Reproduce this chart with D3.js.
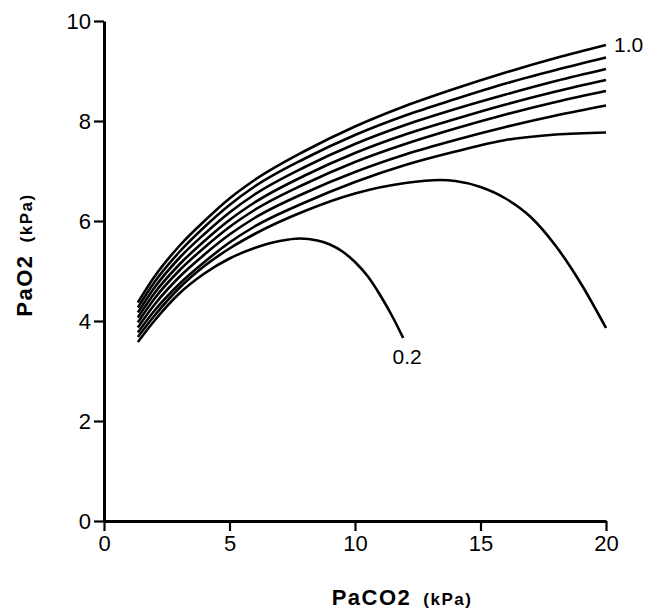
<!DOCTYPE html>
<html>
<head>
<meta charset="utf-8">
<script src="https://cdn.jsdelivr.net/npm/d3@7"></script>
<style>
  body { margin: 0; background: #fff; }
  text { font-family: "Liberation Sans", Arial, sans-serif; fill: #000; }
</style>
</head>
<body>
<div id="chart"></div>
<script>
// PaCO2 values (kPa) where the curves were read
const paco2 = [1.35, 2, 3, 4, 5, 6, 8, 10, 12, 14, 16, 18, 20];

// PaO2 (kPa) for FiO2 0.4 .. 1.0, read at the paco2 points
const pao2_10 = [4.37, 4.88, 5.5, 6.0, 6.45, 6.82, 7.4, 7.89, 8.3, 8.65, 8.97, 9.26, 9.52];
const pao2_09 = [4.27, 4.77, 5.38, 5.88, 6.32, 6.69, 7.25, 7.72, 8.11, 8.44, 8.75, 9.02, 9.27];
const pao2_08 = [4.17, 4.66, 5.26, 5.74, 6.17, 6.53, 7.08, 7.54, 7.92, 8.24, 8.53, 8.8, 9.04];
const pao2_07 = [4.07, 4.55, 5.13, 5.6, 6.02, 6.37, 6.91, 7.36, 7.73, 8.04, 8.33, 8.59, 8.82];
const pao2_06 = [3.97, 4.44, 5.01, 5.47, 5.88, 6.22, 6.74, 7.18, 7.54, 7.85, 8.13, 8.38, 8.6];
const pao2_05 = [3.87, 4.32, 4.88, 5.33, 5.73, 6.06, 6.56, 6.98, 7.33, 7.62, 7.88, 8.11, 8.31];
const pao2_04 = [3.77, 4.2, 4.74, 5.18, 5.57, 5.89, 6.37, 6.78, 7.12, 7.39, 7.62, 7.73, 7.77];

// the two lowest curves bend down, so they have their own x points
const paco2_03 = [1.35, 2, 3, 4, 5, 6, 8, 10, 12, 13.4, 14, 15, 16, 17, 18, 19, 20];
const pao2_03  = [3.68, 4.1, 4.66, 5.1, 5.45, 5.74, 6.2, 6.55, 6.76, 6.82, 6.8, 6.68, 6.45, 6.08, 5.5, 4.75, 3.86];
const paco2_02 = [1.35, 2, 3, 4, 5, 6, 7, 7.8, 8.5, 9, 9.5, 10, 10.5, 11, 11.5, 11.92];
const pao2_02  = [3.58, 4.0, 4.55, 4.95, 5.25, 5.46, 5.6, 5.65, 5.61, 5.53, 5.39, 5.18, 4.9, 4.52, 4.08, 3.66];

const xTicks = [0, 5, 10, 15, 20];
const yTicks = [0, 2, 4, 6, 8, 10];

const series = [
  {fio2: "1.0", x: paco2, y: pao2_10},
  {fio2: "0.9", x: paco2, y: pao2_09},
  {fio2: "0.8", x: paco2, y: pao2_08},
  {fio2: "0.7", x: paco2, y: pao2_07},
  {fio2: "0.6", x: paco2, y: pao2_06},
  {fio2: "0.5", x: paco2, y: pao2_05},
  {fio2: "0.4", x: paco2, y: pao2_04},
  {fio2: "0.3", x: paco2_03, y: pao2_03},
  {fio2: "0.2", x: paco2_02, y: pao2_02}
];

const W = 657, H = 611;
const margin = {top: 21, right: 51, bottom: 90, left: 104};
const width = W - margin.left - margin.right,
      height = H - margin.top - margin.bottom;

const svg = d3.select("#chart")
  .append("svg")
    .attr("width", W)
    .attr("height", H)
  .append("g")
    .attr("transform", `translate(${margin.left},${margin.top})`);

const x = d3.scaleLinear().domain([0, 20]).range([0, width]);
const y = d3.scaleLinear().domain([0, 10]).range([height, 0]);

// axes
const xAxis = svg.append("g")
  .attr("transform", `translate(0,${height})`)
  .call(d3.axisBottom(x).tickValues(xTicks).tickSize(10).tickSizeOuter(0).tickPadding(4));
const yAxis = svg.append("g")
  .call(d3.axisLeft(y).tickValues(yTicks).tickSize(10).tickSizeOuter(0).tickPadding(3));

[xAxis, yAxis].forEach(a => {
  a.select(".domain").attr("stroke", "#000").attr("stroke-width", 3);
  a.selectAll(".tick line").attr("stroke", "#000").attr("stroke-width", 2.2);
  a.selectAll(".tick text")
    .style("font-family", "'Liberation Sans', Arial, sans-serif")
    .style("font-size", "22px")
    .attr("fill", "#000");
});

// curves
const line = d3.line()
  .x(d => x(d[0]))
  .y(d => y(d[1]))
  .curve(d3.curveMonotoneX);

svg.append("g")
  .selectAll("path")
  .data(series)
  .join("path")
    .attr("d", s => line(s.x.map((v, i) => [v, s.y[i]])))
    .attr("fill", "none")
    .attr("stroke", "#000")
    .attr("stroke-width", 2.6)
    .attr("stroke-linejoin", "round");

// end labels
const sTop = series[0], sLow = series[8];
svg.append("text")
  .attr("x", x(sTop.x[sTop.x.length - 1]) + 8)
  .attr("y", y(sTop.y[sTop.y.length - 1]) + 7)
  .style("font-size", "21px")
  .text(sTop.fio2);
svg.append("text")
  .attr("x", x(sLow.x[sLow.x.length - 1]) + 4)
  .attr("y", y(sLow.y[sLow.y.length - 1]) + 26)
  .attr("text-anchor", "middle")
  .style("font-size", "21px")
  .text(sLow.fio2);

// axis titles
const xt = svg.append("text")
  .attr("x", 298)
  .attr("y", height + 84)
  .attr("text-anchor", "middle")
  .style("font-weight", "bold");
xt.append("tspan").style("font-size", "22px").style("letter-spacing", "1.5px").text("PaCO2");
xt.append("tspan").attr("dx", 12).style("font-size", "17px").style("letter-spacing", "1.5px").text("(kPa)");

const yt = svg.append("text")
  .attr("transform", `translate(${32 - margin.left},${255 - margin.top}) rotate(-90)`)
  .attr("text-anchor", "middle")
  .style("font-weight", "bold");
yt.append("tspan").style("font-size", "22px").style("letter-spacing", "1.5px").text("PaO2");
yt.append("tspan").attr("dx", 12).style("font-size", "17px").style("letter-spacing", "1.5px").text("(kPa)");
</script>
</body>
</html>
